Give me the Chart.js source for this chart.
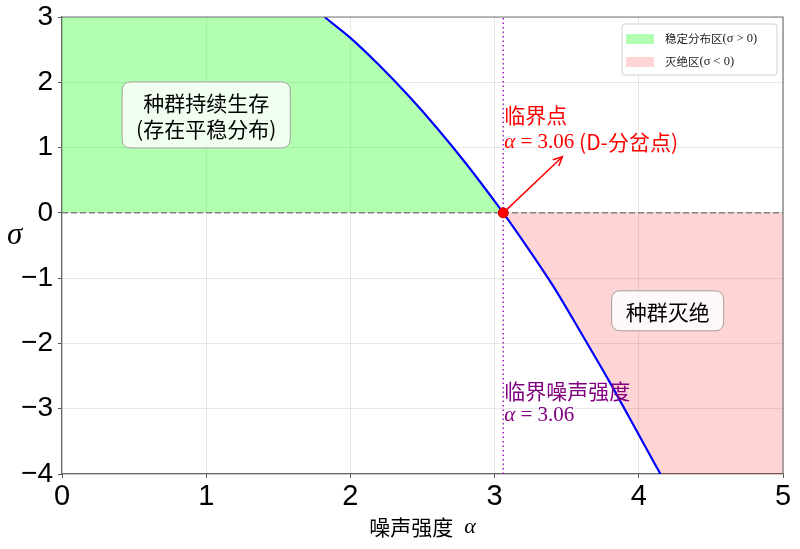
<!DOCTYPE html>
<html>
<head>
<meta charset="utf-8">
<script src="https://cdn.jsdelivr.net/npm/chart.js@4.4.1/dist/chart.umd.min.js"></script>
<style>
html,body{margin:0;padding:0;background:#fff;}
#wrap{width:800px;height:549px;position:relative;}
</style>
</head>
<body>
<div id="wrap"><canvas id="c"></canvas></div>
<script>
// ---- data ----
const alpha = [1.82, 2.0, 2.2, 2.4, 2.6, 2.8, 3.0, 3.06, 3.2, 3.4, 3.6, 3.8, 4.0, 4.15];
const sigma = [3.0, 2.68, 2.26, 1.80, 1.30, 0.76, 0.18, 0.0, -0.44, -1.10, -1.84, -2.60, -3.40, -4.0];
const alphaC = 3.06;
const xTicks = [0, 1, 2, 3, 4, 5];
const yTicks = [-4, -3, -2, -1, 0, 1, 2, 3];
const legendLabels = ['稳定分布区', '灭绝区'];
const legendMath = ['(σ > 0)', '(σ < 0)'];
const arrowTip = {x: 3.47, y: 0.86};
const box1 = {x: 1.0, y: 1.5, lines: ['种群持续生存', '(存在平稳分布)']};
const box2 = {x: 4.2, y: -1.5, lines: ['种群灭绝']};
const purpleAnchor = {x: 3.06, y: -2.92};
const redAnchor = {x: 3.06, y: 1.3};

const xMin = xTicks[0], xMax = xTicks[xTicks.length-1];
const yMin = yTicks[0], yMax = yTicks[yTicks.length-1];

const curve = alpha.map((a,i)=>({x:a, y:sigma[i]}));
const fillPts = [{x:xMin, y:yMax}, ...curve, {x:xMax, y:yMin}];

const GREEN = 'rgba(0,255,0,0.30)';
const RED = 'rgba(255,0,0,0.17)';
const CJK = '"Noto Sans CJK SC"';
const SERIF = '"Liberation Serif", "DejaVu Serif", serif';

function segs(ctx, parts, x, y, align){
  let w = 0;
  parts.forEach(p=>{ctx.font=p.f; p.w=ctx.measureText(p.t).width; w+=p.w;});
  let cx = align==='center' ? x - w/2 : x;
  ctx.textAlign='left'; ctx.textBaseline='middle';
  parts.forEach(p=>{ctx.font=p.f; ctx.fillStyle=p.c||ctx.fillStyle; ctx.fillText(p.t, cx, y); cx+=p.w;});
  return w;
}
function rrect(ctx,x,y,w,h,r){
  ctx.beginPath();
  ctx.moveTo(x+r,y);ctx.lineTo(x+w-r,y);ctx.quadraticCurveTo(x+w,y,x+w,y+r);
  ctx.lineTo(x+w,y+h-r);ctx.quadraticCurveTo(x+w,y+h,x+w-r,y+h);
  ctx.lineTo(x+r,y+h);ctx.quadraticCurveTo(x,y+h,x,y+h-r);
  ctx.lineTo(x,y+r);ctx.quadraticCurveTo(x,y,x+r,y);ctx.closePath();
}

const annot = {
  id:'annot',
  afterDatasetsDraw(chart){
    const ctx = chart.ctx, sx = chart.scales.x, sy = chart.scales.y;
    const px = v=>sx.getPixelForValue(v), py = v=>sy.getPixelForValue(v);
    ctx.save();
    // arrow
    const x0 = px(alphaC), y0 = py(0), x1 = px(arrowTip.x), y1 = py(arrowTip.y);
    ctx.strokeStyle='red'; ctx.lineWidth=1.5;
    ctx.beginPath(); ctx.moveTo(x0,y0); ctx.lineTo(x1,y1); ctx.stroke();
    const ang = Math.atan2(y1-y0, x1-x0), L=10, spread=0.45;
    ctx.beginPath();
    ctx.moveTo(x1-L*Math.cos(ang-spread), y1-L*Math.sin(ang-spread));
    ctx.lineTo(x1,y1);
    ctx.lineTo(x1-L*Math.cos(ang+spread), y1-L*Math.sin(ang+spread));
    ctx.stroke();
    // red text
    const rx = px(redAnchor.x)+1, ry = py(redAnchor.y);
    segs(ctx,[{t:'临界点',f:'21px '+CJK,c:'red'}], rx, ry-13, 'left');
    segs(ctx,[{t:'α',f:'italic 21px '+SERIF,c:'red'},{t:' = 3.06',f:'21px '+SERIF,c:'red'},
              {t:' (D-分岔点)',f:'21px '+CJK,c:'red'}], rx, ry+14, 'left');
    // purple text
    const qx = px(purpleAnchor.x)+1, qy = py(purpleAnchor.y);
    segs(ctx,[{t:'临界噪声强度',f:'21px '+CJK,c:'purple'}], qx, qy-12, 'left');
    segs(ctx,[{t:'α',f:'italic 21px '+SERIF,c:'purple'},{t:' = 3.06',f:'21px '+SERIF,c:'purple'}], qx, qy+12, 'left');
    // boxes
    [box1, box2].forEach(b=>{
      const cx = px(b.x), cy = py(b.y);
      ctx.font = '21px '+CJK;
      const w = Math.max(...b.lines.map(l=>ctx.measureText(l).width)) + 28;
      const lh = 26, h = b.lines.length*lh + 14;
      rrect(ctx, cx-w/2, cy-h/2, w, h, 9);
      ctx.fillStyle='rgba(255,255,255,0.82)'; ctx.fill();
      ctx.strokeStyle='#a0a0a0'; ctx.lineWidth=1; ctx.stroke();
      ctx.fillStyle='#000'; ctx.textAlign='center'; ctx.textBaseline='middle';
      b.lines.forEach((l,i)=>ctx.fillText(l, cx, cy + (i-(b.lines.length-1)/2)*lh + 1));
    });
    // legend
    const lx=622, ly=24, lw=155, lh2=51;
    rrect(ctx,lx,ly,lw,lh2,3);
    ctx.fillStyle='rgba(255,255,255,0.85)'; ctx.fill();
    ctx.strokeStyle='#d0d0d0'; ctx.lineWidth=1; ctx.stroke();
    [GREEN, RED].forEach((col,i)=>{
      const yy = ly + 15 + i*23;
      ctx.fillStyle=col; ctx.fillRect(lx+4, yy-5, 28, 10);
      segs(ctx,[{t:legendLabels[i],f:'11.5px '+CJK,c:'#222'},{t:legendMath[i],f:'12.5px '+SERIF,c:'#222'}], lx+43, yy, 'left');
    });
    ctx.restore();
  },
  afterDraw(chart){
    const ctx = chart.ctx, ca = chart.chartArea;
    ctx.save();
    segs(ctx,[{t:'σ',f:'italic 31px '+SERIF,c:'#000'}], 7, 236, 'left');
    segs(ctx,[{t:'噪声强度',f:'21px '+CJK,c:'#000'},{t:'\u2002α',f:'italic 22px '+SERIF,c:'#000'}], (ca.left+ca.right)/2, 527, 'center');
    ctx.restore();
  }
};

new Chart(document.getElementById('c'), {
  type:'scatter',
  data:{datasets:[
    {label:'fill', data:fillPts, showLine:true, borderWidth:0, pointRadius:0,
     fill:{target:'origin', above:GREEN, below:RED}, backgroundColor:GREEN, order:5},
    {label:'zero', data:[{x:xMin,y:0},{x:xMax,y:0}], showLine:true, borderColor:'#808080',
     borderWidth:1.5, borderDash:[6,3], pointRadius:0, order:4},
    {label:'vline', data:[{x:alphaC,y:yMin},{x:alphaC,y:yMax}], showLine:true, borderColor:'#a020c0',
     borderWidth:1.5, borderDash:[1.5,3], pointRadius:0, order:3},
    {label:'curve', data:curve, showLine:true, borderColor:'#0000ff', borderWidth:2.2,
     pointRadius:0, cubicInterpolationMode:'monotone', order:2},
    {label:'crit', data:[{x:alphaC,y:0}], pointRadius:5, pointBackgroundColor:'#ff0000',
     pointBorderColor:'#cc0000', pointBorderWidth:1, order:1}
  ]},
  options:{
    responsive:true, maintainAspectRatio:false, animation:false,
    layout:{padding:{top:17,right:17,left:0,bottom:0}},
    plugins:{legend:{display:false}, tooltip:{enabled:false}},
    scales:{
      x:{type:'linear', min:xMin, max:xMax,
         afterBuildTicks(s){s.ticks = xTicks.map(v=>({value:v}));},
         afterFit(s){s.height=75; s.paddingLeft=0; s.paddingRight=0;},
         ticks:{font:{family:'"Liberation Sans", Arial, sans-serif', size:29}, color:'#000', padding:2, maxRotation:0},
         grid:{color:'rgba(0,0,0,0.09)', tickColor:'#555', tickLength:4},
         border:{color:'#666', width:1.2}},
      y:{type:'linear', min:yMin, max:yMax,
         afterBuildTicks(s){s.ticks = yTicks.map(v=>({value:v}));},
         afterFit(s){s.width=62; s.paddingTop=0; s.paddingBottom=0;},
         ticks:{font:{family:'"Liberation Sans", Arial, sans-serif', size:28}, color:'#000', padding:5,
                callback:v=>String(v).replace('-', '\u2212')},
         grid:{color:'rgba(0,0,0,0.09)', tickColor:'#555', tickLength:4},
         border:{color:'#666', width:1.2}}
    }
  },
  plugins:[annot, {
    id:'frame',
    afterDatasetsDraw(chart){
      const ctx=chart.ctx, ca=chart.chartArea;
      ctx.save(); ctx.strokeStyle='#777'; ctx.lineWidth=1.2;
      ctx.beginPath(); ctx.moveTo(ca.left,ca.top); ctx.lineTo(ca.right,ca.top); ctx.lineTo(ca.right,ca.bottom); ctx.stroke();
      ctx.restore();
    }
  }]
});
</script>
</body>
</html>
